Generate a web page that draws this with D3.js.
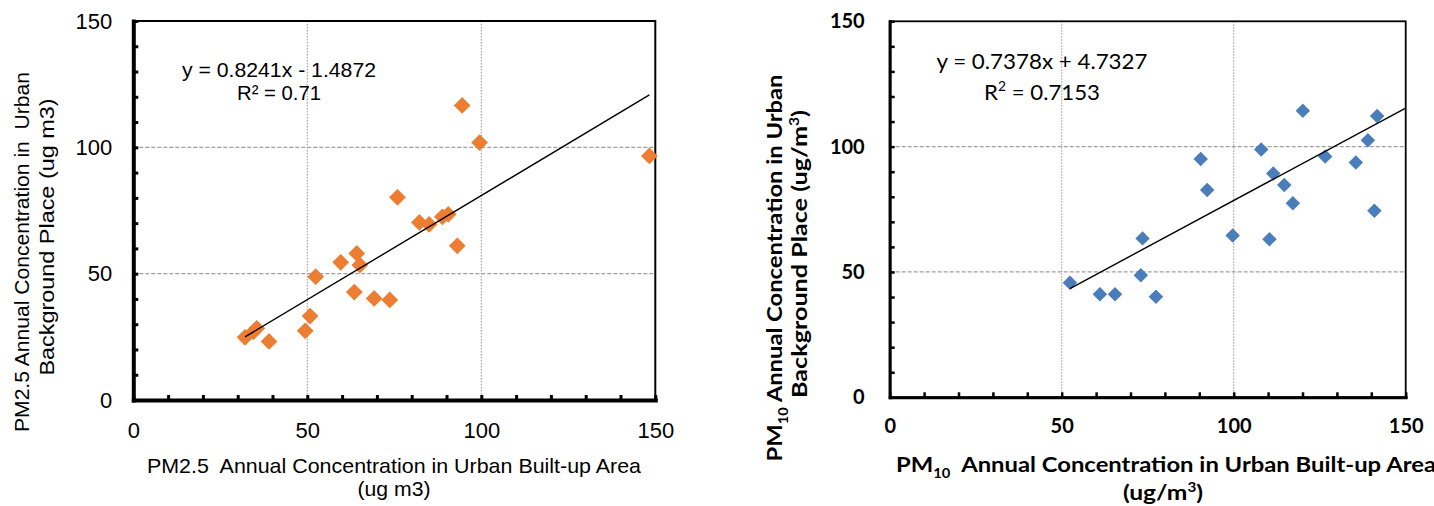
<!DOCTYPE html>
<html>
<head>
<meta charset="utf-8">
<script src="https://cdn.jsdelivr.net/npm/d3@7"></script>
<style>
	body { margin: 0; background: #fff; }
	svg { display: block; }
	text { white-space: pre; }
</style>
</head>
<body>
<svg id="main_svg" width="1434" height="506"></svg>
<script>
// PM2.5: built-up area (x) vs urban background (y)
const pm25_x = [32.1, 34.5, 35.5, 39.0, 49.4, 50.8, 52.4, 59.6, 63.5, 64.2, 65.1, 69.2, 73.7, 75.9, 82.2, 85.0, 88.8, 90.5, 93.1, 94.5, 99.5, 148.3];
const pm25_y = [24.8, 27.0, 28.4, 23.2, 27.4, 33.2, 48.8, 54.5, 42.7, 58.0, 53.4, 40.2, 39.6, 80.2, 70.3, 69.5, 72.5, 73.5, 61.0, 116.6, 101.9, 96.6];
const pm25_fit = [0.8241, -1.4872];
const pm25_r2 = '0.71';
const pm25_fit_range = [32.1, 148.3];

// PM10: built-up area (x) vs urban background (y)
const pm10_x = [52.4, 61.1, 65.5, 73.0, 73.5, 77.4, 90.4, 92.3, 99.7, 108.0, 110.4, 111.5, 114.7, 117.2, 120.1, 126.6, 135.5, 139.0, 140.9, 141.7];
const pm10_y = [45.7, 41.1, 41.1, 48.7, 63.4, 40.1, 95.1, 82.7, 64.5, 98.9, 63.1, 89.3, 84.7, 77.4, 114.3, 96.1, 93.7, 102.5, 74.4, 112.2];
const pm10_fit = [0.7378, 4.7327];
const pm10_r2 = '0.7153';
const pm10_fit_range = [52.4, 150];

const axis_domain = [0, 150];
const major_ticks = [0, 50, 100, 150];
const minor_ticks = [0, 10, 20, 30, 40, 50, 60, 70, 80, 90, 100, 110, 120, 130, 140, 150];
const grid_ticks = [50, 100];

const svg = d3.select('#main_svg');

// text made of parts: [string, 'sub' | 'sup' | undefined]
const rich_text = (sel, parts, size) => {
	let shift = 0;
	parts.forEach(([str, kind]) => {
		const t = sel.append('tspan').text(str);
		let target = 0;
		if (kind === 'sub') target = size * 0.3;
		if (kind === 'sup') target = -size * 0.4;
		if (kind) t.attr('font-size', size * 0.62);
		if (target !== shift) t.attr('dy', target - shift);
		shift = target;
	});
	return sel;
};

const draw_panel = (p) => {
	const g = svg.append('g');
	const x = d3.scaleLinear().domain(axis_domain).range([p.left, p.right]);
	const y = d3.scaleLinear().domain(axis_domain).range([p.bottom, p.top]);

	// grid
	g.selectAll('.vgrid').data(grid_ticks).join('line')
		.attr('x1', d => x(d)).attr('x2', d => x(d))
		.attr('y1', p.top).attr('y2', p.bottom)
		.attr('stroke', '#a6a6a6').attr('stroke-width', 1.2)
		.attr('stroke-dasharray', '1.5,1.5');
	g.selectAll('.hgrid').data(grid_ticks).join('line')
		.attr('x1', p.left).attr('x2', p.right)
		.attr('y1', d => y(d)).attr('y2', d => y(d))
		.attr('stroke', '#a0a0a0').attr('stroke-width', 1.2)
		.attr('stroke-dasharray', '4,2');

	// plot area border
	g.append('rect')
		.attr('x', p.left).attr('y', p.top)
		.attr('width', p.right - p.left).attr('height', p.bottom - p.top)
		.attr('fill', 'none').attr('stroke', '#000').attr('stroke-width', p.border_w);

	// minor ticks and thick axis lines
	const style_axis = a => {
		a.select('.domain').attr('stroke-width', p.axis_w).attr('stroke-linecap', 'square');
		a.selectAll('.tick line').attr('stroke-width', p.tick_w);
	};
	g.append('g').attr('transform', `translate(0,${p.bottom})`)
		.call(d3.axisBottom(x).tickValues(minor_ticks).tickSize(-p.tick_len).tickSizeOuter(0).tickFormat(''))
		.call(style_axis);
	g.append('g').attr('transform', `translate(${p.left},0)`)
		.call(d3.axisLeft(y).tickValues(minor_ticks).tickSize(-p.tick_len).tickSizeOuter(0).tickFormat(''))
		.call(style_axis);

	// tick labels
	const style_labels = a => {
		a.select('.domain').remove();
		a.selectAll('text')
			.attr('font-family', p.font).attr('font-weight', p.weight)
			.attr('font-size', p.tick_size).attr('fill', '#000');
	};
	g.append('g').attr('transform', `translate(0,${p.bottom})`)
		.call(d3.axisBottom(x).tickValues(major_ticks).tickSize(0).tickPadding(p.x_pad))
		.call(style_labels);
	g.append('g').attr('transform', `translate(${p.left},0)`)
		.call(d3.axisLeft(y).tickValues(major_ticks).tickSize(0).tickPadding(p.y_pad))
		.call(style_labels);

	// points
	g.selectAll('.pt').data(d3.zip(p.xs, p.ys)).join('path')
		.attr('d', d3.symbol(d3.symbolSquare, p.marker))
		.attr('transform', d => `translate(${x(d[0])},${y(d[1])}) rotate(45)`)
		.attr('fill', p.color);

	// linear trend line
	const fit_pts = p.fit_range.map(v => [v, p.fit[0] * v + p.fit[1]]);
	g.append('path').datum(fit_pts)
		.attr('d', d3.line().x(d => x(d[0])).y(d => y(d[1])))
		.attr('fill', 'none').attr('stroke', '#000').attr('stroke-width', 1.4);

	// equation
	const sign = p.fit[1] < 0 ? '-' : '+';
	g.append('text')
		.attr('x', p.eq_x).attr('y', p.eq_y[0]).attr('text-anchor', 'middle')
		.attr('font-family', p.eq_font).attr('font-size', p.eq_size)
		.attr('textLength', p.eq_len[0]).attr('lengthAdjust', 'spacingAndGlyphs')
		.text(`y = ${p.fit[0]}x ${sign} ${Math.abs(p.fit[1])}`);
	const r2 = g.append('text')
		.attr('x', p.eq_x).attr('y', p.eq_y[1]).attr('text-anchor', 'middle')
		.attr('font-family', p.eq_font).attr('font-size', p.eq_size)
		.attr('textLength', p.eq_len[1]).attr('lengthAdjust', 'spacingAndGlyphs');
	rich_text(r2, p.r2_parts, p.eq_size);

	// axis titles
	p.x_title.forEach(t => {
		const el = g.append('text')
			.attr('x', t.x).attr('y', t.y).attr('text-anchor', t.anchor || 'middle')
			.attr('font-family', p.font).attr('font-weight', p.weight).attr('font-size', p.title_size)
			.attr('textLength', t.len).attr('lengthAdjust', 'spacingAndGlyphs');
		rich_text(el, t.parts, p.title_size);
	});
	p.y_title.forEach(t => {
		const el = g.append('text')
			.attr('transform', `translate(${t.x},${t.y}) rotate(-90)`).attr('text-anchor', 'middle')
			.attr('font-family', p.font).attr('font-weight', p.weight).attr('font-size', p.title_size)
			.attr('textLength', t.len).attr('lengthAdjust', 'spacingAndGlyphs');
		rich_text(el, t.parts, p.title_size);
	});
};

draw_panel({
	left: 133.3, right: 655.3, top: 21, bottom: 400,
	xs: pm25_x, ys: pm25_y, fit: pm25_fit, fit_range: pm25_fit_range,
	color: '#ED7D31', marker: 140,
	border_w: 2, axis_w: 4, tick_w: 3, tick_len: 5,
	font: '"Liberation Sans", Arial, sans-serif', weight: 400,
	tick_size: 22, x_pad: 22, y_pad: 21, title_size: 21,
	eq_font: '"Liberation Sans", Arial, sans-serif', eq_size: 20,
	eq_x: 279, eq_y: [77, 100], eq_len: [194, 84],
	r2_parts: [['R² = ' + pm25_r2]],
	x_title: [
		{x: 394, y: 473, len: 494, parts: [['PM2.5  Annual Concentration in Urban Built-up Area']]},
		{x: 394, y: 496, len: 73, parts: [['(ug m3)']]}
	],
	y_title: [
		{x: 29, y: 252, len: 360, parts: [['PM2.5 Annual Concentration in  Urban']]},
		{x: 54, y: 237, len: 277, parts: [['Background Place (ug m3)']]}
	]
});

draw_panel({
	left: 889.7, right: 1405.7, top: 21.3, bottom: 397.3,
	xs: pm10_x, ys: pm10_y, fit: pm10_fit, fit_range: pm10_fit_range,
	color: '#4A7EBB', marker: 105,
	border_w: 1.8, axis_w: 3, tick_w: 2.5, tick_len: 5,
	font: 'Lato, "Open Sans", sans-serif', weight: 700,
	tick_size: 20, x_pad: 22, y_pad: 25, title_size: 21,
	eq_font: 'Lato, "Open Sans", sans-serif', eq_size: 22,
	eq_x: 1042, eq_y: [69, 100], eq_len: [211, 116],
	r2_parts: [['R'], ['2', 'sup'], [' = ' + pm10_r2]],
	x_title: [
		{x: 896, y: 472, len: 540, anchor: 'start', parts: [['PM'], ['10', 'sub'], ['  Annual Concentration in Urban Built-up Area']]},
		{x: 1163, y: 500, len: 80, parts: [['(ug/m'], ['3', 'sup'], [')']]}
	],
	y_title: [
		{x: 782, y: 268, len: 387, parts: [['PM'], ['10', 'sub'], [' Annual Concentration in Urban']]},
		{x: 807, y: 254, len: 288, parts: [['Background Place (ug/m'], ['3', 'sup'], [')']]}
	]
});
</script>
</body>
</html>
